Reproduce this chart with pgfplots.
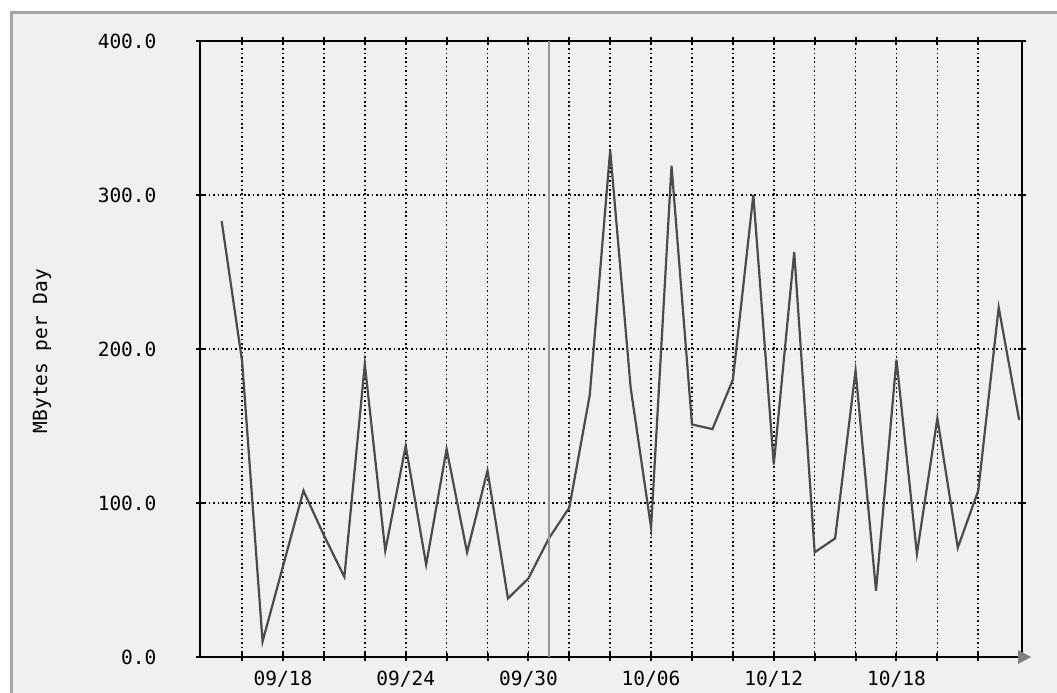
\documentclass[border=0pt]{standalone}
\usepackage{pgfplots}
\pgfplotsset{compat=1.18}
\usepackage{fontspec}
\newfontfamily\chartfont{DejaVu Sans Mono}
\definecolor{bgpanel}{RGB}{240,240,240}
\definecolor{framegray}{RGB}{165,165,165}
\definecolor{linegray}{RGB}{75,75,75}
\definecolor{markgray}{RGB}{150,150,150}

% MBytes per day, day 0 = 09/18
\pgfplotstableread{
day mb
-3 283
-2 192
-1 10
0 59
1 108
2 79
3 52
4 190
5 69
6 137
7 60
8 135
9 68
10 121
11 38
12 51
13 77
14 97
15 170
16 329
17 175
18 84
19 319
20 151
21 148
22 180
23 300
24 125
25 263
26 68
27 77
28 186
29 43
30 193
31 67
32 155
33 71
34 108
35 227
36 154
}\traffic

\begin{document}
\begin{tikzpicture}
\useasboundingbox (-200pt,-36pt) rectangle (857pt,657pt);
\fill[bgpanel] (-188pt,-36pt) rectangle (857pt,644pt);
\draw[framegray, line width=3pt] (-188pt,-36pt) -- (-188pt,644pt) -- (857pt,644pt);
\begin{axis}[
    scale only axis,
    width=822pt, height=616pt,
    xmin=-4.06, xmax=36.14,
    ymin=0, ymax=400,
    xtick={-2,0,...,34},
    xticklabels={{},09/18,{},{},09/24,{},{},09/30,{},{},10/06,{},{},10/12,{},{},10/18,{},{}},
    ytick={0,100,200,300,400},
    yticklabels={0.0,100.0,200.0,300.0,400.0},
    /pgf/number format/assume math mode=true,
    ticklabel style={font=\chartfont\fontsize{19.5}{22}\selectfont},
    yticklabel style={xshift=-36pt},
    xticklabel style={yshift=-6pt},
    tick align=center,
    major tick length=8pt,
    tick style={black, line width=2pt},
    axis line style={black, line width=2pt},
    grid=major,
    major grid style={black, line width=1.6pt, dash pattern=on 1.6pt off 2.8pt},
    clip=false,
]
\addplot[linegray, line width=2.2pt] table[x=day, y=mb] {\traffic};
\draw[markgray, line width=2pt] (axis cs:13,0) -- (axis cs:13,400);
\end{axis}
\fill[gray] (818pt,-7pt) -- (831pt,0pt) -- (818pt,7pt) -- cycle;
\node[rotate=90, font=\chartfont\fontsize{19.5}{22}\selectfont] at (-158pt,306pt) {MBytes per Day};
\end{tikzpicture}
\end{document}
